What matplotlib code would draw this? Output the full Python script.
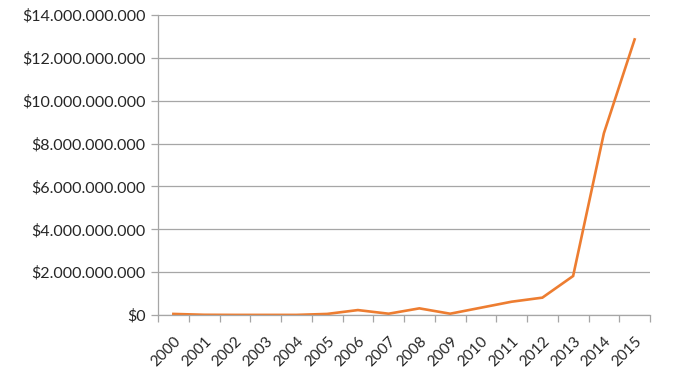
import matplotlib
matplotlib.use("Agg")
import matplotlib.pyplot as plt
from matplotlib.ticker import FuncFormatter, FixedLocator

years = ["2000", "2001", "2002", "2003", "2004", "2005", "2006", "2007",
         "2008", "2009", "2010", "2011", "2012", "2013", "2014", "2015"]
values = [0.05e9, 0.01e9, 0.005e9, 0.005e9, 0.005e9, 0.05e9, 0.23e9, 0.06e9,
          0.31e9, 0.06e9, 0.34e9, 0.62e9, 0.81e9, 1.82e9, 8.48e9, 12.86e9]
yticks = [0, 2e9, 4e9, 6e9, 8e9, 10e9, 12e9, 14e9]

plt.rcParams['font.family'] = ['Lato', 'DejaVu Sans']

fig = plt.figure(figsize=(6.78, 3.78), dpi=100)
ax = fig.add_axes([158/678, 1 - 315/378, (650-158)/678, 300/378])

x = list(range(len(years)))
ax.plot(x, values, color='#ED7D31', lw=1.9, solid_joinstyle='miter')

ax.set_xlim(-0.5, len(years) - 0.5)
ax.set_ylim(0, 14e9)
ax.set_yticks(yticks)
ax.yaxis.set_major_formatter(FuncFormatter(lambda v, p: "$" + f"{int(round(v)):,}".replace(",", ".")))
ax.yaxis.grid(True, color='#A6A6A6', lw=0.9)
ax.set_axisbelow(True)

ax.set_xticks(x)
ax.set_xticklabels(years, rotation=45, ha='right', rotation_mode='anchor')
ax.xaxis.set_minor_locator(FixedLocator([i - 0.5 for i in range(len(years) + 1)]))
ax.tick_params(axis='x', which='major', length=0, pad=14, labelsize=11, colors='#262626')
ax.tick_params(axis='x', which='minor', length=5, color='#A6A6A6', width=0.9)
ax.tick_params(axis='y', length=5, color='#A6A6A6', width=0.9, labelsize=11.5, labelcolor='#262626', pad=4)

for s in ['top', 'right']:
    ax.spines[s].set_visible(False)
for s in ['left', 'bottom']:
    ax.spines[s].set_color('#A6A6A6')
    ax.spines[s].set_linewidth(0.9)

fig.savefig("out.png", dpi=100)
